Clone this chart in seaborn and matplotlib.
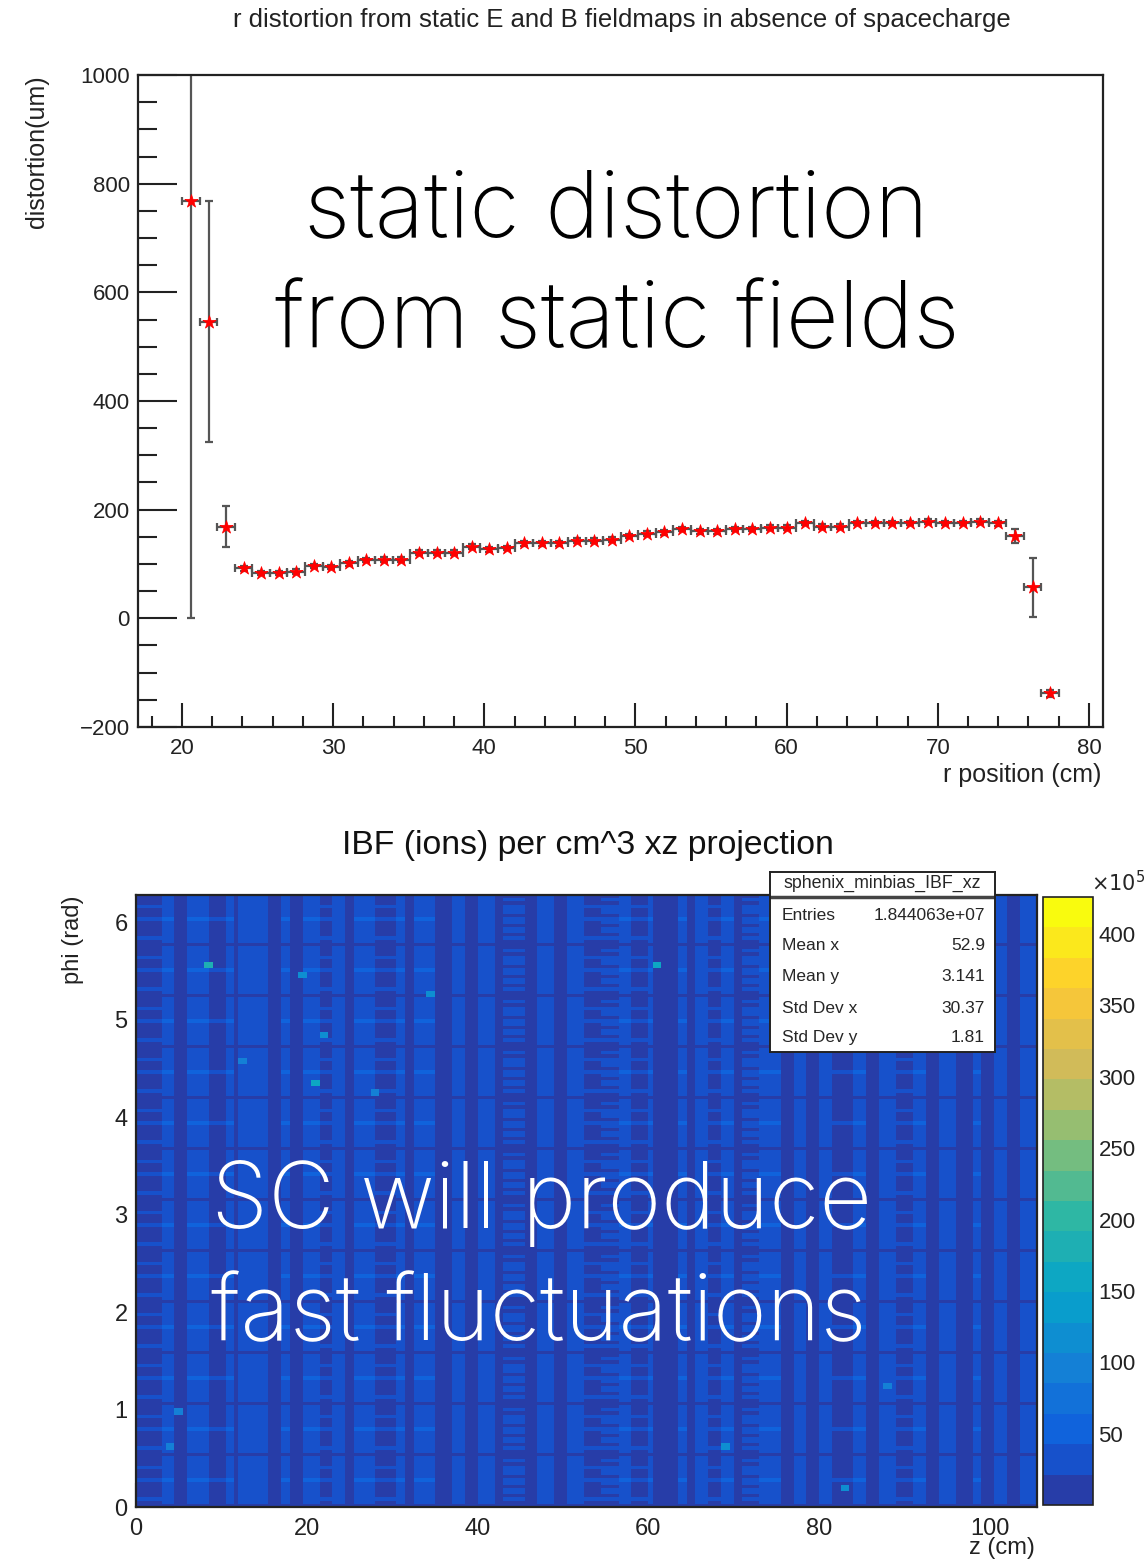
import numpy as np
import matplotlib
matplotlib.use("Agg")
import matplotlib.pyplot as plt
from matplotlib.colors import LinearSegmentedColormap, ListedColormap, BoundaryNorm
from matplotlib.ticker import MultipleLocator
import pandas as pd
import seaborn as sns

# ---------------- radial distortion profile ----------------
r_first = 20.6          # centre of first r bin (cm)
r_step = 1.16           # r bin width (cm)
distortion = [768, 546, 169, 92, 83, 83, 86, 96, 94, 101,
              107, 108, 108, 121, 121, 121, 132, 127, 130, 138,
              138, 138, 143, 143, 145, 151, 156, 158, 164, 160,
              160, 165, 165, 167, 167, 175, 169, 169, 176, 176,
              176, 176, 178, 176, 176, 178, 175, 151, 57, -138]
distortion_err = [768, 222, 37, 5, 4, 4, 4, 4, 4, 4,
                  4, 4, 4, 4, 4, 4, 4, 4, 4, 4,
                  4, 4, 4, 4, 4, 4, 4, 4, 4, 4,
                  4, 4, 4, 4, 4, 4, 4, 4, 4, 4,
                  4, 4, 4, 4, 4, 4, 5, 13, 54, 6]

# ---------------- IBF ion density, phi vs z (x1e5 ions/cm^3) ----------------
# z segments with their typical density
z_edges = [0, 3.2, 4.5, 6.0, 8.4, 10.4, 11.3, 11.8, 15.3, 17.0,
           17.9, 19.6, 21.3, 23.0, 24.7, 25.7, 28.2, 30.7, 31.7, 32.3,
           35.0, 37.0, 38.5, 40.0, 42.0, 43.0, 45.5, 47.0, 49.0, 50.5,
           52.5, 54.3, 56.7, 58.2, 59.8, 60.6, 63.3, 64.5, 65.6, 66.8,
           68.3, 69.9, 71.0, 73.0, 75.4, 77.0, 78.5, 80.1, 81.7, 84.0,
           85.6, 87.2, 88.8, 91.2, 92.3, 93.9, 95.9, 97.8, 99.0, 100.5,
           102.1, 103.7, 105.5]
column_density = [17, 32, 12, 32, 16, 32, 12, 26, 12, 32,
                  12, 32, 17, 26, 12, 32, 17, 32, 12, 32,
                  12, 26, 12, 26, 12, 22, 12, 26, 13, 26,
                  17, 22, 32, 17, 32, 14, 32, 12, 26, 17,
                  32, 12, 22, 32, 12, 26, 14, 26, 16, 32,
                  12, 26, 17, 32, 12, 26, 14, 32, 12, 26,
                  14, 26]
n_sectors = 12
sector_row_profile = [0.6, 0.95, 1.3, 0.9, 1.05, 1.2, 0.92, 1.0,
                      1.35, 0.88, 1.08, 0.97, 1.28, 0.9, 1.03, 0.95]
hot_z = [8.2, 19.2, 34.5, 21.8, 12.4, 20.7, 27.6, 60.9, 68.6, 82.9, 87.9, 4.7, 4.0]
hot_phi = [5.54, 5.46, 5.26, 4.83, 4.58, 4.32, 4.25, 5.56, 0.61, 0.17, 1.23, 0.95, 0.60]
hot_density = [190, 110, 110, 120, 100, 170, 100, 170, 120, 120, 90, 100, 90]

stats_labels = ["Entries", "Mean x", "Mean y", "Std Dev x", "Std Dev y"]
stats_values = ["1.844063e+07", "52.9", "3.141", "30.37", "1.81"]
cbar_ticks = [50, 100, 150, 200, 250, 300, 350, 400]
z_max = 426

W, H = 1145, 1559
sns.set_theme(style="ticks")
plt.rcParams["font.family"] = ["Liberation Sans", "DejaVu Sans"]
plt.rcParams["axes.edgecolor"] = "#222222"
plt.rcParams["xtick.color"] = "#222222"
plt.rcParams["ytick.color"] = "#222222"

fig = plt.figure(figsize=(W / 100, H / 100), dpi=100)
fig.patch.set_facecolor("white")


def fx(px):
    return px / W


def fy(py):
    return 1 - py / H


# ================= top panel: r distortion =================
ax1 = fig.add_axes([fx(138), fy(727), fx(1103) - fx(138), fy(75) - fy(727)])
r_centres = r_first + r_step * np.arange(len(distortion))
df = pd.DataFrame({"r": r_centres, "dist": distortion, "err": distortion_err})
ax1.errorbar(df["r"], df["dist"], xerr=r_step / 2, yerr=df["err"], fmt="none",
             ecolor="#555555", elinewidth=1.6, capsize=3, capthick=1.6, zorder=2)
sns.scatterplot(data=df, x="r", y="dist", marker="*", color="red", s=100,
                edgecolor="red", linewidth=0.5, ax=ax1, zorder=3)
ax1.set_xlim(17.09, 80.93)
ax1.set_ylim(-200, 1000)
ax1.set_xlabel("")
ax1.set_ylabel("")
ax1.xaxis.set_major_locator(MultipleLocator(10))
ax1.xaxis.set_minor_locator(MultipleLocator(2))
ax1.yaxis.set_major_locator(MultipleLocator(200))
ax1.yaxis.set_minor_locator(MultipleLocator(50))
ax1.tick_params(axis="x", which="major", direction="in", length=17, width=1.5,
                labelsize=16, pad=8, top=False)
ax1.tick_params(axis="x", which="minor", direction="in", length=8, width=1.5, top=False)
ax1.tick_params(axis="y", which="major", direction="in", length=28, width=1.5,
                labelsize=16, pad=6, right=False)
ax1.tick_params(axis="y", which="minor", direction="in", length=14, width=1.5, right=False)
ax1.set_yticks(range(-200, 1001, 200))
ax1.set_yticklabels(["\u2212200", "0", "200", "400", "600", "800", "1000"])
for s in ax1.spines.values():
    s.set_linewidth(1.6)
    s.set_visible(True)

fig.text(fx(622), fy(20), "r distortion from static E and B fieldmaps in absence of spacecharge",
         ha="center", va="center", fontsize=18.5, color="#222222")
fig.text(fx(37), fy(75), "distortion(um)", rotation=90, ha="center", va="top",
         fontsize=18, color="#222222")
fig.text(fx(1101), fy(775), "r position (cm)", ha="right", va="center",
         fontsize=18, color="#222222")

big = dict(fontsize=66, family=["Inter", "Roboto", "DejaVu Sans"], fontweight="light")
fig.text(fx(616), fy(236), "static distortion", ha="center", va="baseline", color="black", **big)
fig.text(fx(617), fy(347), "from static fields", ha="center", va="baseline", color="black", **big)

# ================= bottom panel: IBF density map =================
ax2 = fig.add_axes([fx(136), fy(1507), fx(1037) - fx(136), fy(895) - fy(1507)])
# fine z binning (0.5 cm) filled from the segment densities
zb_edges = np.linspace(0, 105.5, 212)
zb_centres = 0.5 * (zb_edges[:-1] + zb_edges[1:])
seg_index = np.clip(np.searchsorted(z_edges, zb_centres) - 1, 0, len(column_density) - 1)
col_values = np.asarray(column_density, dtype=float)[seg_index]

rows_per_sector = len(sector_row_profile)
n_rows = n_sectors * rows_per_sector
phi_edges = np.linspace(0, 2 * np.pi, n_rows + 1)
row_factor = np.tile(sector_row_profile, n_sectors)
density = np.outer(row_factor, col_values)
for zh, ph, val in zip(hot_z, hot_phi, hot_density):
    ci = np.searchsorted(zb_edges, zh) - 1
    ri = np.searchsorted(phi_edges, ph) - 1
    density[ri:ri + 2, ci:ci + 2] = val

# ROOT-like kBird palette, 20 contour levels
stops = np.linspace(0, 1, 9)
red = [0.2082, 0.0592, 0.0780, 0.0232, 0.1802, 0.5301, 0.8186, 0.9956, 0.9764]
green = [0.1664, 0.3599, 0.5041, 0.6419, 0.7178, 0.7492, 0.7328, 0.7862, 0.9832]
blue = [0.5293, 0.8684, 0.8385, 0.7914, 0.6425, 0.4662, 0.3499, 0.1968, 0.0539]
bird = LinearSegmentedColormap.from_list(
    "bird", list(zip(stops, zip(red, green, blue))), N=255)
n_levels = 20
level_colors = [bird(int((i + 0.99) * 255 / n_levels)) for i in range(n_levels)]
cmap = ListedColormap(level_colors)
norm = BoundaryNorm(np.linspace(0, z_max, n_levels + 1), n_levels)

mesh = ax2.pcolormesh(zb_edges, phi_edges, density, cmap=cmap, norm=norm,
                      shading="flat", rasterized=True)
ax2.set_xlim(0, 105.5)
ax2.set_ylim(0, 2 * np.pi)
ax2.xaxis.set_major_locator(MultipleLocator(20))
ax2.xaxis.set_minor_locator(MultipleLocator(5))
ax2.yaxis.set_major_locator(MultipleLocator(1))
ax2.yaxis.set_minor_locator(MultipleLocator(0.2))
ax2.tick_params(axis="x", which="major", direction="in", length=17, width=1.5,
                labelsize=17, pad=8, top=False, color="black")
ax2.tick_params(axis="x", which="minor", direction="in", length=8, width=1.5, top=False, color="black")
ax2.tick_params(axis="y", which="major", direction="in", length=27, width=1.5,
                labelsize=17, pad=6, right=False, color="black")
ax2.tick_params(axis="y", which="minor", direction="in", length=13, width=1.5, right=False, color="black")
for s in ax2.spines.values():
    s.set_linewidth(1.6)
    s.set_visible(True)

fig.text(fx(588), fy(845), "IBF (ions) per cm^3 xz projection", ha="center", va="center",
         fontsize=24.3, color="#111111")
fig.text(fx(73), fy(895), "phi (rad)", rotation=90, ha="center", va="top",
         fontsize=17, color="#222222")
fig.text(fx(1035), fy(1548), "z (cm)", ha="right", va="center", fontsize=17, color="#222222")

fig.text(fx(211), fy(1228), "SC will produce", ha="left", va="baseline", color="white", **big)
fig.text(fx(211), fy(1340), "fast fluctuations", ha="left", va="baseline", color="white", **big)

# colour scale
cax = fig.add_axes([fx(1043), fy(1505), fx(1093) - fx(1043), fy(897) - fy(1505)])
cb = fig.colorbar(mesh, cax=cax, ticks=cbar_ticks)
cb.outline.set_linewidth(1.2)
cax.yaxis.set_ticks_position("right")
cax.tick_params(direction="in", length=25, width=1.5, labelsize=16, pad=4, color="black")
cax.minorticks_off()
fig.text(fx(1118), fy(883), r"$\times10^{5}$", ha="center", va="center", fontsize=15)

# statistics box
sax = fig.add_axes([fx(770), fy(1052), fx(995) - fx(770), fy(872) - fy(1052)])
sax.set_xlim(0, 1)
sax.set_ylim(0, 1)
sax.set_xticks([])
sax.set_yticks([])
sax.set_facecolor("white")
for s in sax.spines.values():
    s.set_linewidth(1.4)
    s.set_color("#222222")
sax.axhline(0.861, color="#444444", lw=2.5)
sax.text(0.5, 0.935, "sphenix_minbias_IBF_xz", ha="center", va="center", fontsize=12.8)
row_y = [0.756, 0.589, 0.417, 0.244, 0.078]
for lab, val, yy in zip(stats_labels, stats_values, row_y):
    sax.text(0.053, yy, lab, ha="left", va="center", fontsize=12.5)
    sax.text(0.956, yy, val, ha="right", va="center", fontsize=12.5)

fig.savefig("out.png", dpi=100)
